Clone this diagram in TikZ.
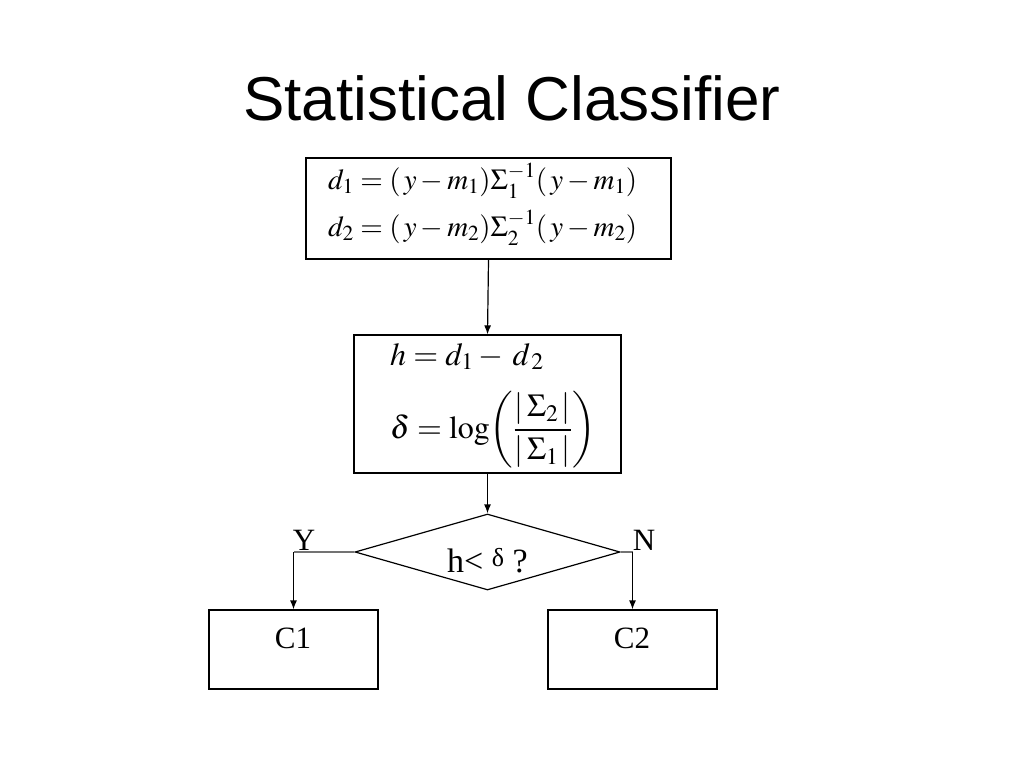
\documentclass[tikz,border=0pt]{standalone}
\usepackage{mathptmx}
\usepackage[no-math]{fontspec}
\setmainfont{Liberation Serif}
\newfontfamily\titlefont{Liberation Sans}
\usetikzlibrary{shapes.geometric,arrows.meta}
\tikzset{
  box/.style={draw=black, line width=1.2pt, rectangle, inner sep=0pt},
  conn/.style={line width=1.2pt, -{Latex[length=9pt,width=7pt]}},
  graycon/.style={draw=black!55, line width=1.2pt},
  lbl/.style={inner sep=0pt, font=\fontsize{31}{34}\selectfont},
  mathlbl/.style={inner sep=0pt, anchor=base west, font=\fontsize{29}{32}\selectfont},
  mathlblb/.style={inner sep=0pt, anchor=base west, font=\fontsize{32}{36}\selectfont}
}
\begin{document}
\begin{tikzpicture}[x=1pt,y=-1pt]
\useasboundingbox[fill=white] (0,0) rectangle (1024,768);
% title
\node[inner sep=0pt, anchor=base, font=\titlefont\fontsize{62}{70}\selectfont] (title) at (512,120) {Statistical Classifier};
% box 1
\node[box, minimum width=365pt, minimum height=101pt] (b1) at (488.5,208.5) {};
\node[mathlbl] (f1) at (328,189) {$d_1 = (\,y - m_1)\Sigma_1^{-1}(\,y - m_1)$};
\node[mathlbl] (f2) at (328,236) {$d_2 = (\,y - m_2)\Sigma_2^{-1}(\,y - m_2)$};
% box 2
\node[box, minimum width=267pt, minimum height=138pt] (b2) at (487.5,404) {};
\node[mathlblb] (f3) at (390,365) {$h = d_1 - \mkern3mu d_{\,2}$};
\node[mathlblb] (f4) at (390,438) {$\displaystyle\delta = \log\!\left(\frac{|\,\Sigma_2\,|}{|\,\Sigma_1\,|}\right)$};
% diamond
\node[draw=black, line width=1.2pt, diamond, aspect=3.49, minimum width=265pt, minimum height=76pt, inner sep=0pt] (d) at (487.5,552) {};
\node[inner sep=0pt, anchor=base, font=\fontsize{34}{38}\selectfont] (q) at (487.5,572) {h\textless\ \raisebox{6pt}{\fontsize{26}{30}\selectfont δ} ?};
% C boxes
\node[box, minimum width=169pt, minimum height=79pt] (c1) at (293.5,649.5) {};
\node[box, minimum width=169pt, minimum height=79pt] (c2) at (632.5,649.5) {};
\node[lbl, anchor=base] (c1t) at (293,648) {C1};
\node[lbl, anchor=base] (c2t) at (632,648) {C2};
% labels
\node[lbl, anchor=base] (ylab) at (304,550) {Y};
\node[lbl, anchor=base] (nlab) at (644,550) {N};
% connectors
\draw[conn] (b1.south) -- (b2.north);
\draw[conn] (b2.south) -- (d.north);
\coordinate (yc) at (293.5,552);
\coordinate (nc) at (632.5,552);
\draw[graycon] (d.west) -- (yc);
\draw[graycon] (d.east) -- (nc);
\draw[conn] (yc) -- (c1.north);
\draw[conn] (nc) -- (c2.north);
\end{tikzpicture}
\end{document}
